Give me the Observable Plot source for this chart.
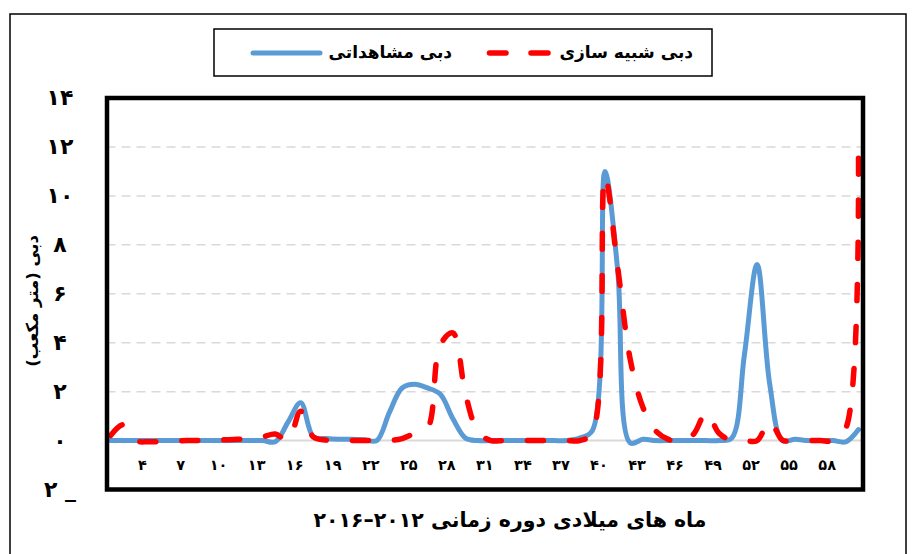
<!DOCTYPE html>
<html><head><meta charset="utf-8">
<script src="https://cdn.jsdelivr.net/npm/d3@7"></script>
<script src="https://cdn.jsdelivr.net/npm/@observablehq/plot@0.6"></script>
<style>
html,body{margin:0;padding:0;background:#fff;}
#chart{width:912px;height:554px;position:relative;overflow:hidden;}
</style></head><body><div id="chart"></div>
<script>
// ---- data ----
const months = d3.range(1, 61);
const observed = [
  0, 0, 0, 0, 0, 0, 0, 0, 0, 0,
  0, 0, 0, -0.05, 0.75, 1.55, 0.15, 0.08, 0.05, 0.05,
  0.03, 0, 1.15, 2.15, 2.3, 2.15, 1.9, 0.9, 0.1, 0,
  0, 0, 0, 0, 0, 0, 0, 0.1, 0.4, 11.0,
  7.0, -0.1, 0.05, 0, 0, 0, 0, 0, 0, 0.1,
  3.5, 7.2, 2.3, 0, 0.05, 0, 0, 0, -0.05, 0.45
];
const simulated = [
  0.2, 0.65, 0, -0.05, -0.04, -0.02, 0, 0, 0.01, 0.03,
  0.05, 0.08, 0.15, 0.27, 0, 1.2, 0.15, 0.02, 0, 0,
  0, 0, 0, 0.08, 0.3, 0.5, 3.9, 4.4, 1.9, 0.35,
  0, 0, 0, 0, 0, 0, 0, 0, 0.3, 10.8,
  7.1, 3.3, 1.35, 0.4, 0.05, -0.05, 0.27, 1.15, 0.3, 0,
  0, 0, 0.8, 0.02, 0, 0, 0, 0, 0.5, 11.9
];
const xTicks = d3.range(4, 59, 3);
const yTicks = d3.range(-2, 15, 2);
const gridValues = [2, 4, 6, 8, 10, 12];
const seriesNames = ["دبی مشاهداتی", "دبی شبیه سازی"];
const seriesColors = ["#5B9BD5", "#FF0000"];
const xTitle = "ماه های میلادی دوره زمانی ۲۰۱۲–۲۰۱۶";
const yTitle = "دبی (متر مکعب)";

const faDigits = "۰۱۲۳۴۵۶۷۸۹";
const fa = n => String(Math.abs(n)).replace(/\d/g, d => faDigits[+d]) + (n < 0 ? " _" : "");

const rows = months.map((m, i) => ({month: m, observed: observed[i], simulated: simulated[i]}));
const font = "DejaVu Sans";

const chart = Plot.plot({
  width: 912, height: 554,
  marginLeft: 106.5, marginRight: 49.5, marginTop: 97.5, marginBottom: 65,
  style: {fontFamily: font, background: "white", overflow: "visible"},
  x: {domain: [1, 60], insetLeft: 3.5, insetRight: 4.5, axis: null},
  y: {domain: [-2, 14], axis: null},
  marks: [
    Plot.ruleY(gridValues, {stroke: "#D9D9D9", strokeWidth: 1.5, strokeDasharray: "9,6"}),
    Plot.ruleY([0], {stroke: "#D9D9D9", strokeWidth: 2}),
    Plot.line(rows, {x: "month", y: "observed", stroke: seriesColors[0], strokeWidth: 5,
      curve: "catmull-rom", strokeLinecap: "round", strokeLinejoin: "round"}),
    Plot.line(rows, {x: "month", y: "simulated", stroke: seriesColors[1], strokeWidth: 5.5,
      strokeDasharray: "16,26", curve: "catmull-rom", strokeLinecap: "round"}),
    Plot.text(xTicks, {x: d => d, frameAnchor: "bottom", dy: -20, dx: -6, text: fa,
      fontSize: 14.5, fontWeight: "bold", fill: "black"}),
    Plot.text(yTicks, {y: d => d, frameAnchor: "left", dx: -47, text: fa,
      fontSize: 22, fontWeight: "bold", textAnchor: "middle", fill: "black"}),
    Plot.frame({stroke: "black", strokeWidth: 4.5})
  ]
});

const svg = d3.select(chart);
// outer chart border
svg.append("rect").attr("x", 10).attr("y", 14).attr("width", 896).attr("height", 560)
  .attr("fill", "none").attr("stroke", "black").attr("stroke-width", 1.5);
// axis titles
svg.append("text").attr("transform", "translate(33,301) rotate(-90)")
  .attr("text-anchor", "middle").attr("dominant-baseline", "middle")
  .attr("font-family", font).attr("font-weight", "bold").attr("font-size", 16.5)
  .text(yTitle);
svg.append("text").attr("x", 510).attr("y", 521)
  .attr("text-anchor", "middle").attr("dominant-baseline", "middle")
  .attr("font-family", font).attr("font-weight", "bold").attr("font-size", 20.5)
  .text(xTitle);
// legend
const lg = svg.append("g");
lg.append("rect").attr("x", 214).attr("y", 29).attr("width", 498).attr("height", 47)
  .attr("fill", "white").attr("stroke", "black").attr("stroke-width", 1.5);
lg.append("line").attr("x1", 253).attr("x2", 320).attr("y1", 53).attr("y2", 53)
  .attr("stroke", seriesColors[0]).attr("stroke-width", 5).attr("stroke-linecap", "round");
lg.append("text").attr("x", 452).attr("y", 53).attr("text-anchor", "end")
  .attr("dominant-baseline", "middle").attr("font-family", font)
  .attr("font-weight", "bold").attr("font-size", 17).text(seriesNames[0]);
[[489.5, 506], [531, 548]].forEach(([a, b]) =>
  lg.append("line").attr("x1", a).attr("x2", b).attr("y1", 53).attr("y2", 53)
    .attr("stroke", seriesColors[1]).attr("stroke-width", 5.5).attr("stroke-linecap", "round"));
lg.append("text").attr("x", 693).attr("y", 53).attr("text-anchor", "end")
  .attr("dominant-baseline", "middle").attr("font-family", font)
  .attr("font-weight", "bold").attr("font-size", 17).text(seriesNames[1]);

document.getElementById("chart").appendChild(chart);
</script></body></html>
